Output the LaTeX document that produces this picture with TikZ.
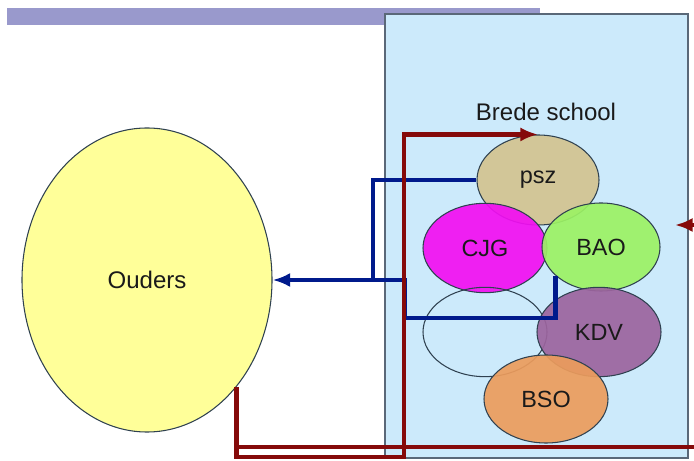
\documentclass[tikz,border=0pt]{standalone}
\usepackage{fontspec}
\setmainfont{Liberation Sans}
\usetikzlibrary{shapes.geometric,arrows.meta}
\definecolor{barpurple}{HTML}{9999CC}
\definecolor{schoolblue}{HTML}{CCEAFB}
\definecolor{schoolline}{HTML}{5A6878}
\definecolor{blobline}{HTML}{2F4150}
\definecolor{txt}{HTML}{1A1A1A}
\definecolor{linkblue}{HTML}{001A8C}
\definecolor{linkred}{HTML}{850A0A}
\definecolor{oudersfill}{HTML}{FFFF99}
\definecolor{pszfill}{HTML}{D2C698}
\definecolor{cjgfill}{HTML}{F20EF2}
\definecolor{baofill}{HTML}{9CF264}
\definecolor{kdvfill}{HTML}{9C649E}
\definecolor{bsofill}{HTML}{EC9C5C}
\begin{document}
\begin{tikzpicture}[x=0.03cm,y=-0.03cm,
  blob/.style={ellipse,draw=blobline,line width=0.9pt,minimum width=3.72cm,minimum height=2.68cm,inner sep=0pt,text=txt,font=\fontsize{20}{22}\selectfont},
  bluelink/.style={draw=linkblue,line width=4pt},
  redlink/.style={draw=linkred,line width=4pt}]
\useasboundingbox (0,0) rectangle (694,461);
% top bar and the school box
\fill[barpurple] (7,8) rectangle (540,25);
\draw[schoolline,fill=schoolblue,line width=1.6pt] (385,14) rectangle (688,458);
\node[text=txt,font=\fontsize{20.5}{22}\selectfont] (brede) at (546,112) {Brede school};
% parents
\node[blob,fill=oudersfill,minimum width=7.5cm,minimum height=9.12cm,font=\fontsize{20.5}{22}\selectfont] (ouders) at (147,280) {Ouders};
% joints of the links
\coordinate (j) at (373,280);
\coordinate (b2) at (405,318);
\coordinate (r2) at (404,457);
\coordinate (r4) at (237,447);
\coordinate (r5) at (694,447);
\coordinate (r6) at (694,225);
\coordinate (r7) at (675,225);
% partners
\node[blob,fill=pszfill,minimum width=3.66cm,minimum height=2.7cm] (psz) at (538,180) {psz};
\node[blob,fill=cjgfill,fill opacity=0.92,text opacity=1] (cjg) at (485,248) {CJG};
\node[blob,fill=baofill,fill opacity=0.92,text opacity=1,minimum width=3.54cm,minimum height=2.64cm] (bao) at (601,247) {BAO};
\node[blob] (leeg) at (485,332) {};
\node[blob,fill=kdvfill,fill opacity=0.92,text opacity=1] (kdv) at (599,332) {KDV};
\node[blob,fill=bsofill,fill opacity=0.92,text opacity=1,minimum height=2.64cm] (bso) at (546,399) {BSO};
% blue links to the parents
\draw[bluelink,-{Latex[length=15pt,width=12pt]}] (psz.west) -| (j) -- (ouders.east);
\draw[bluelink] (bao.212) |- (b2) |- (j);
% red links from the parents
\draw[redlink,-{Latex[length=15pt,width=12pt]}] (ouders.-50) |- (r2) |- (psz.north);
\draw[redlink] (r4) -- (r5);
\draw[redlink,-{Latex[length=15pt,width=12pt]}] (r6) -- (r7);
\end{tikzpicture}
\end{document}
